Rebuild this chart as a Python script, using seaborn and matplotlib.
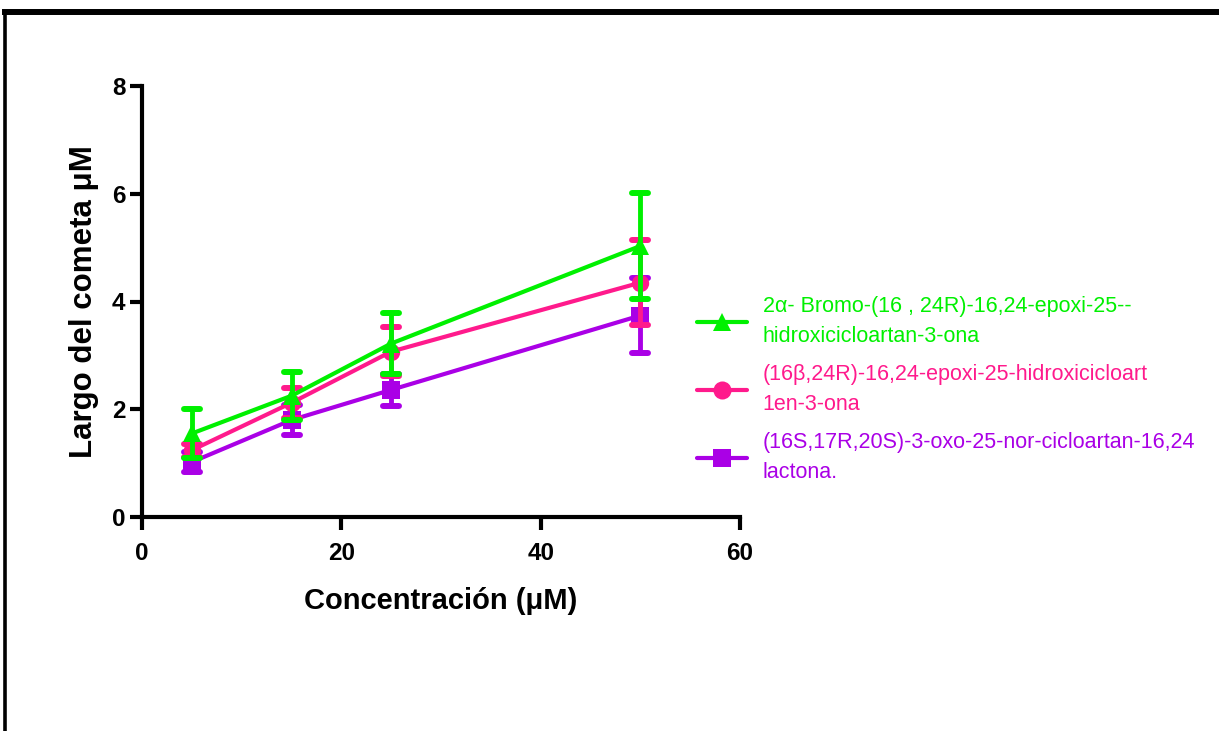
import numpy as np
import pandas as pd
import matplotlib
matplotlib.use("Agg")
import matplotlib.pyplot as plt
from matplotlib.lines import Line2D
from matplotlib.markers import MarkerStyle
import seaborn as sns

# ---- data ----
conc = [5, 15, 25, 50]
labels = [
    "2\u03b1- Bromo-(16 , 24R)-16,24-epoxi-25--\nhidroxicicloartan-3-ona",
    "(16\u03b2,24R)-16,24-epoxi-25-hidroxicicloart\n1en-3-ona",
    "(16S,17R,20S)-3-oxo-25-nor-cicloartan-16,24\nlactona.",
]
green_mean = [1.55, 2.25, 3.22, 5.03]
green_err = [0.45, 0.45, 0.56, 0.99]
pink_mean = [1.24, 2.12, 3.07, 4.35]
pink_err = [0.12, 0.28, 0.46, 0.79]
purple_mean = [1.02, 1.80, 2.36, 3.74]
purple_err = [0.18, 0.27, 0.30, 0.69]

means = [green_mean, pink_mean, purple_mean]
errs = [green_err, pink_err, purple_err]
colors = ["#00f000", "#ff1a8c", "#aa00e6"]
markers = ["^", "o", "s"]

sns.set_style("ticks")
plt.rcParams["font.family"] = ["Liberation Sans", "DejaVu Sans"]

fig = plt.figure(figsize=(12.19, 7.31), dpi=100)
ax = fig.add_axes([142 / 1219, 1 - 517 / 731, 598 / 1219, 431 / 731])

rows = []
for lab, m in zip(labels, means):
    for c, v in zip(conc, m):
        rows.append({"conc": c, "val": v, "comp": lab})
df = pd.DataFrame(rows)

order = [2, 1, 0]  # draw green last (on top)
for i in order:
    sub = df[df["comp"] == labels[i]]
    eb = ax.errorbar(conc, means[i], yerr=errs[i], fmt="none", ecolor=colors[i],
                     elinewidth=3.5, capsize=5.5, capthick=4.3, zorder=2 + (2 - i) * 2)
    for cl in eb[1]:
        try:
            cl.set_marker(MarkerStyle("_", capstyle="round"))
        except Exception:
            pass
    sns.lineplot(data=sub, x="conc", y="val", color=colors[i], marker=markers[i],
                 markersize=12.5, markeredgewidth=0, linewidth=3.0, ax=ax,
                 legend=False, zorder=3 + (2 - i) * 2)

ax.set_xlim(0, 60)
ax.set_ylim(0, 8)
ax.set_xticks([0, 20, 40, 60])
ax.set_yticks([0, 2, 4, 6, 8])
for s in ["top", "right"]:
    ax.spines[s].set_visible(False)
for s in ["left", "bottom"]:
    ax.spines[s].set_linewidth(3)
    ax.spines[s].set_color("black")
    ax.spines[s].set_capstyle("projecting")
ax.tick_params(axis="both", width=3, length=9, direction="out", colors="black",
               labelsize=17.5)
ax.tick_params(axis="x", pad=9)
ax.tick_params(axis="y", pad=3)
for t in ax.get_xticklabels() + ax.get_yticklabels():
    t.set_fontweight("bold")

ax.set_xlabel("Concentraci\u00f3n (\u03bcM)", fontsize=21, fontweight="bold",
              color="black", labelpad=16)
ax.set_ylabel("Largo del cometa \u03bcM", fontsize=22.5, fontweight="bold",
              color="black", labelpad=9)

handles = [Line2D([0], [0], color=colors[i], marker=markers[i], markersize=13,
                  markeredgewidth=0, linewidth=3.0) for i in range(3)]
leg = fig.legend(handles, labels, loc="upper left",
                 bbox_to_anchor=(697 / 1219, 1 - 296 / 731),
                 bbox_transform=fig.transFigure, frameon=False, fontsize=15.5,
                 handlelength=2.33, handletextpad=0.72, labelspacing=0.8,
                 borderpad=0, borderaxespad=0, labelcolor="linecolor")
for t in leg.get_texts():
    t.set_linespacing(1.55)

# outer frame (partial, as in reference)
fig.add_artist(Line2D([4.5 / 1219, 1.0], [1 - 12 / 731, 1 - 12 / 731],
                      transform=fig.transFigure, color="black", linewidth=4.3,
                      solid_capstyle="projecting"))
fig.add_artist(Line2D([4.5 / 1219, 4.5 / 1219], [0, 1 - 12 / 731],
                      transform=fig.transFigure, color="black", linewidth=2.6,
                      solid_capstyle="projecting"))

fig.savefig("out.png", dpi=100)
